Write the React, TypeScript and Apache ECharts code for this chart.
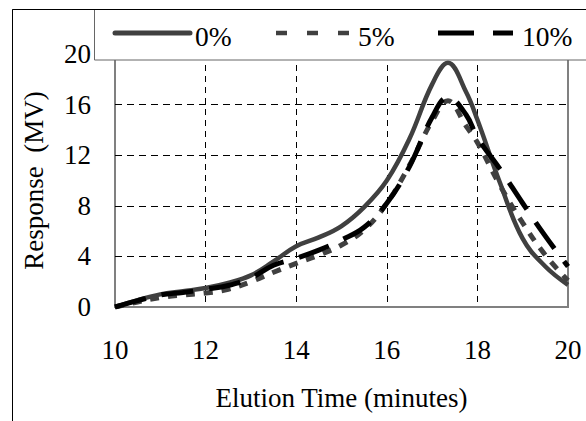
import React, { useEffect, useRef } from "react";
import * as echarts from "echarts";

const times = [10, 10.5, 11, 11.5, 12, 12.5, 13, 13.5, 14, 14.5, 15, 15.5, 16, 16.5, 17, 17.35, 17.75, 18, 18.5, 19, 19.5, 20];
const series0 = [0, 0.55, 1.0, 1.25, 1.5, 1.9, 2.5, 3.6, 4.8, 5.5, 6.4, 7.9, 10.0, 13.3, 17.6, 19.3, 17.0, 14.8, 9.8, 5.4, 3.2, 1.75];
const series5 = [0, 0.4, 0.75, 0.95, 1.1, 1.4, 2.0, 2.75, 3.45, 4.1, 4.9, 6.1, 8.2, 11.2, 14.7, 16.3, 14.3, 13.0, 9.6, 6.65, 4.1, 2.1];
const series10 = [0, 0.5, 0.95, 1.15, 1.4, 1.7, 2.3, 3.3, 3.85, 4.5, 5.3, 6.3, 8.2, 11.1, 15.0, 16.6, 15.2, 13.4, 10.9, 8.2, 5.6, 3.2];
const seriesNames = ["0%", "5%", "10%"];
const xTicks = { min: 10, max: 20, interval: 2 };
const yTicks = { min: 0, max: 20, interval: 4 };

const FONT = "Liberation Serif";
const FS = 27;

export default function App() {
  const ref = useRef<HTMLDivElement>(null);
  useEffect(() => {
    if (!ref.current) return;
    const chart = echarts.init(ref.current, null, { renderer: "svg" });
    const pairs = (vals: number[]) => times.map((t, i) => [t, vals[i]]);
    const txt = (text: string, x: number) => ({
      type: "text",
      z: 102,
      x,
      y: 36,
      style: { text, fontFamily: FONT, fontSize: FS + 0.5, fill: "#000", verticalAlign: "middle", align: "left" },
    });
    const option: any = {
      animation: false,
      backgroundColor: "#fff",
      textStyle: { fontFamily: FONT },
      grid: {
        left: 115,
        right: 18,
        top: 54,
        bottom: 114,
        show: true,
        borderColor: "#808080",
        borderWidth: 2,
        backgroundColor: "transparent",
      },
      xAxis: {
        type: "value",
        min: xTicks.min,
        max: xTicks.max,
        interval: xTicks.interval,
        name: "Elution Time (minutes)",
        nameLocation: "middle",
        nameGap: 77,
        nameTextStyle: { fontFamily: FONT, fontSize: FS, color: "#000" },
        axisLine: { show: false },
        axisTick: { show: false },
        axisLabel: { fontFamily: FONT, fontSize: FS, color: "#000", margin: 29 },
        splitLine: {
          show: true,
          showMinLine: false,
          showMaxLine: false,
          lineStyle: { color: "#000", width: 1, type: [6, 5] },
        },
      },
      yAxis: {
        type: "value",
        min: yTicks.min,
        max: yTicks.max,
        interval: yTicks.interval,
        name: "Response  (MV)",
        nameLocation: "middle",
        nameGap: 68,
        nameTextStyle: { fontFamily: FONT, fontSize: FS, color: "#000" },
        axisLine: { show: false },
        axisTick: { show: false },
        axisLabel: { fontFamily: FONT, fontSize: FS, color: "#000", margin: 24 },
        splitLine: {
          show: true,
          showMinLine: false,
          showMaxLine: false,
          lineStyle: { color: "#000", width: 1, type: [7, 5] },
        },
      },
      series: [
        {
          name: seriesNames[0],
          type: "line",
          data: pairs(series0),
          smooth: 0.4,
          symbol: "none",
          lineStyle: { color: "#404040", width: 4.5 },
          z: 3,
        },
        {
          name: seriesNames[1],
          type: "line",
          data: pairs(series5),
          smooth: 0.4,
          symbol: "none",
          lineStyle: { color: "#404040", width: 5, type: [9, 9] },
          z: 4,
        },
        {
          name: seriesNames[2],
          type: "line",
          data: pairs(series10),
          smooth: 0.4,
          symbol: "none",
          lineStyle: { color: "#000", width: 5, type: [32, 16] },
          z: 5,
        },
      ],
      graphic: [
        {
          type: "rect",
          z: 100,
          shape: { x: 12.5, y: 9.5, width: 700, height: 600 },
          style: { fill: "none", stroke: "#000", lineWidth: 1 },
        },
        {
          type: "rect",
          z: 101,
          shape: { x: 94.5, y: 9.5, width: 600, height: 50.5 },
          style: { fill: "#fff", stroke: "#666", lineWidth: 1 },
        },
        {
          type: "line",
          z: 102,
          shape: { x1: 12.5, y1: 9.5, x2: 600, y2: 9.5 },
          style: { stroke: "#000", lineWidth: 1 },
        },
        {
          type: "line",
          z: 102,
          shape: { x1: 115, y1: 33, x2: 190, y2: 33 },
          style: { stroke: "#404040", lineWidth: 5, lineCap: "round" },
        },
        txt(seriesNames[0], 195),
        {
          type: "line",
          z: 102,
          shape: { x1: 276, y1: 33, x2: 349, y2: 33 },
          style: { stroke: "#404040", lineWidth: 4.5, lineDash: [11, 20] },
        },
        txt(seriesNames[1], 358),
        {
          type: "line",
          z: 102,
          shape: { x1: 438, y1: 33, x2: 513, y2: 33 },
          style: { stroke: "#000", lineWidth: 5, lineDash: [36, 19] },
        },
        txt(seriesNames[2], 522),
      ],
    };
    chart.setOption(option);
    return () => chart.dispose();
  }, []);
  return (
    <div
      ref={ref}
      style={{ position: "fixed", left: 0, top: 0, width: 586, height: 421 }}
    />
  );
}
